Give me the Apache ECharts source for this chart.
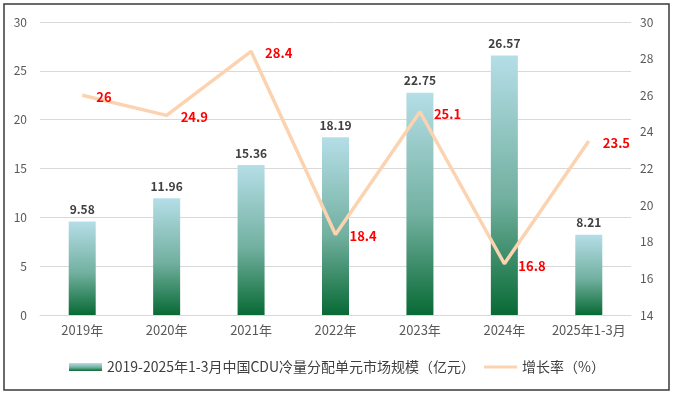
<!DOCTYPE html>
<html><head><meta charset="utf-8">
<script src="https://cdn.jsdelivr.net/npm/echarts@6/dist/echarts.min.js"></script>
<style>html,body{margin:0;padding:0;background:#fff}#c{width:674px;height:395px}</style>
</head><body><div id="c"></div>
<script>
const categories = ['2019年','2020年','2021年','2022年','2023年','2024年','2025年1-3月'];
const marketSize = [9.58, 11.96, 15.36, 18.19, 22.75, 26.57, 8.21];
const growthRate = [26, 24.9, 28.4, 18.4, 25.1, 16.8, 23.5];
const barName = '2019-2025年1-3月中国CDU冷量分配单元市场规模（亿元）';
const lineName = '增长率（%）';

const font = '"Noto Sans CJK SC", "Noto Sans", sans-serif';
const chart = echarts.init(document.getElementById('c'));
const grad = new echarts.graphic.LinearGradient(0,0,0,1,[
  {offset:0,color:'#b5dee7'},{offset:0.55,color:'#72b0a0'},{offset:1,color:'#086a34'}]);
chart.setOption({
  animation:false,
  textStyle:{fontFamily:font},
  graphic:[{type:'rect',shape:{x:4,y:4,width:665,height:386},style:{fill:'none',stroke:'#3a3a3a',lineWidth:1.5},silent:true}],
  grid:{left:40,right:43,top:22,bottom:80},
  legend:{bottom:16,itemGap:9,itemWidth:33,itemHeight:8,
    textStyle:{color:'#404040',fontSize:14,fontFamily:font},
    data:[{name:barName,icon:'rect'},{name:lineName,icon:'path://M0,0h33v3h-33z',itemStyle:{color:'#fbd3b0'}}]},
  xAxis:{type:'category',data:categories,
    axisLine:{lineStyle:{color:'#d9d9d9'}},axisTick:{show:false},
    axisLabel:{color:'#595959',fontSize:13,margin:9,interval:0}},
  yAxis:[
    {type:'value',min:0,max:30,interval:5,
      axisLabel:{color:'#595959',fontSize:12,margin:13},
      splitLine:{lineStyle:{color:'#d9d9d9'}},axisLine:{show:false},axisTick:{show:false}},
    {type:'value',min:14,max:30,interval:2,
      axisLabel:{color:'#595959',fontSize:12,margin:9},
      splitLine:{show:false},axisLine:{show:false},axisTick:{show:false}}
  ],
  series:[
    {name:barName,type:'bar',data:marketSize,barWidth:27,
      itemStyle:{color:grad},
      label:{show:true,position:'top',color:'#404040',fontWeight:'bold',fontSize:12,distance:6}},
    {name:lineName,type:'line',yAxisIndex:1,data:growthRate,
      symbol:'circle',symbolSize:0,showSymbol:true,
      lineStyle:{color:'#fbd3b0',width:3.5},itemStyle:{color:'#fbd3b0'},
      label:{show:true,position:'right',distance:14,offset:[0,2],color:'#ff0000',fontWeight:'bold',fontSize:13}}
  ]
});
</script></body></html>
